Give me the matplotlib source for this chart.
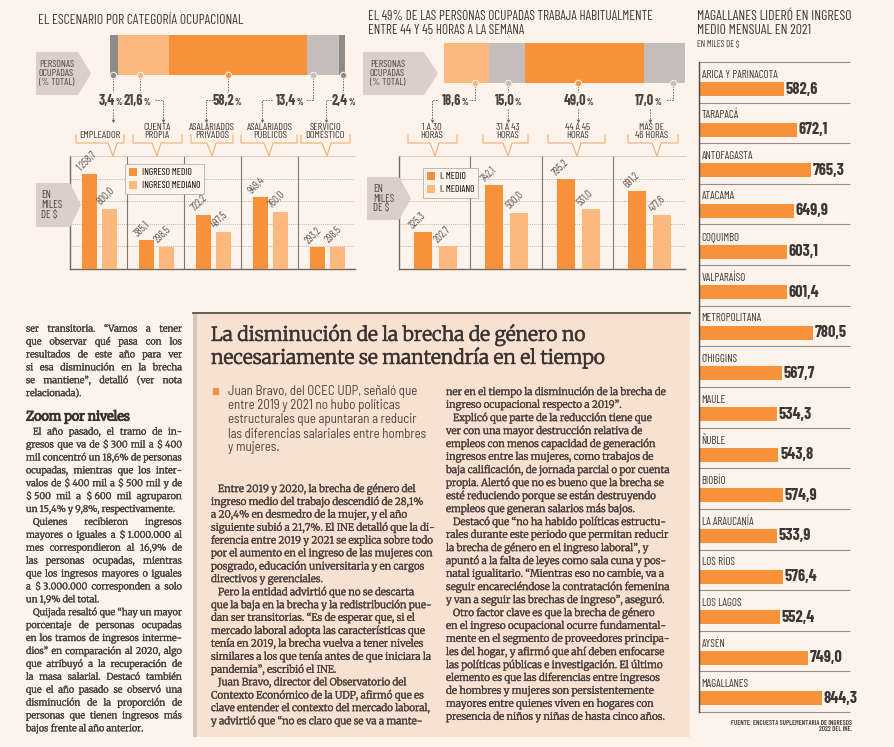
import numpy as np
import matplotlib
matplotlib.use("Agg")
import matplotlib.pyplot as plt
import matplotlib.patheffects as pe
from matplotlib.patches import Polygon, Rectangle

W, H = 895, 747

# --- datos ---------------------------------------------------------------
cat_labels = ["EMPLEADOR", "CUENTA\nPROPIA", "ASALARIADOS\nPRIVADOS",
              "ASALARIADOS\nPÚBLICOS", "SERVICIO\nDOMÉSTICO"]
cat_share = [3.4, 21.6, 58.2, 13.4, 2.4]
cat_medio = [1258.7, 385.1, 722.2, 949.4, 293.2]
cat_mediano = [800.0, 298.5, 497.5, 760.0, 298.5]

hrs_labels = ["1 A 30\nHORAS", "31 A 43\nHORAS", "44 A 45\nHORAS", "MÁS DE\n46 HORAS"]
hrs_share = [18.6, 15.0, 49.0, 17.0]
hrs_medio = [325.3, 742.1, 795.2, 691.2]
hrs_mediano = [202.7, 500.0, 531.0, 477.6]

regiones = ["ARICA Y PARINACOTA", "TARAPACÁ", "ANTOFAGASTA", "ATACAMA", "COQUIMBO",
            "VALPARAÍSO", "METROPOLITANA", "O'HIGGINS", "MAULE", "ÑUBLE", "BIOBÍO",
            "LA ARAUCANÍA", "LOS RÍOS", "LOS LAGOS", "AYSÉN", "MAGALLANES"]
reg_medio = [582.6, 672.1, 765.3, 649.9, 603.1, 601.4, 780.5, 567.7, 534.3, 543.8,
             574.9, 533.9, 576.4, 552.4, 749.0, 844.3]

titulo1 = "EL ESCENARIO POR CATEGORÍA OCUPACIONAL"
titulo2 = ["EL 49% DE LAS PERSONAS OCUPADAS TRABAJA HABITUALMENTE",
           "ENTRE 44 Y 45 HORAS A LA SEMANA"]
titulo3 = ["MAGALLANES LIDERÓ EN INGRESO", "MEDIO MENSUAL EN 2021"]

titular = ["La disminución de la brecha de género no",
           "necesariamente se mantendría en el tiempo"]
bajada = ["Juan Bravo, del OCEC UDP, señaló que",
          "entre 2019 y 2021 no hubo políticas",
          "estructurales que apuntaran a reducir",
          "las diferencias salariales entre hombres",
          "y mujeres."]

col_izq_a = [["ser transitoria. “Vamos a tener",
              "que observar qué pasa con los",
              "resultados de este año para ver",
              "si esa disminución en la brecha",
              "se mantiene”, detalló (ver nota",
              "relacionada)."]]
col_izq_b = [["El año pasado, el tramo de in-",
              "gresos que va de $ 300 mil a $ 400",
              "mil concentró un 18,6% de personas",
              "ocupadas, mientras que los inter-",
              "valos de $ 400 mil a $ 500 mil y de",
              "$ 500 mil a $ 600 mil agruparon",
              "un 15,4% y 9,8%, respectivamente."],
             ["Quienes recibieron ingresos",
              "mayores o iguales a $ 1.000.000 al",
              "mes correspondieron al 16,9% de",
              "las personas ocupadas, mientras",
              "que los ingresos mayores o iguales",
              "a $ 3.000.000 corresponden a solo",
              "un 1,9% del total."],
             ["Quijada resaltó que “hay un mayor",
              "porcentaje de personas ocupadas",
              "en los tramos de ingresos interme-",
              "dios” en comparación al 2020, algo",
              "que atribuyó a la recuperación de",
              "la masa salarial. Destacó también",
              "que el año pasado se observó una",
              "disminución de la proporción de",
              "personas que tienen ingresos más",
              "bajos frente al año anterior."]]

col_mid = [["Entre 2019 y 2020, la brecha de género del",
            "ingreso medio del trabajo descendió de 28,1%",
            "a 20,4% en desmedro de la mujer, y el año",
            "siguiente subió a 21,7%. El INE detalló que la di-",
            "ferencia entre 2019 y 2021 se explica sobre todo",
            "por el aumento en el ingreso de las mujeres con",
            "posgrado, educación universitaria y en cargos",
            "directivos y gerenciales."],
           ["Pero la entidad advirtió que no se descarta",
            "que la baja en la brecha y la redistribución pue-",
            "dan ser transitorias. “Es de esperar que, si el",
            "mercado laboral adopta las características que",
            "tenía en 2019, la brecha vuelva a tener niveles",
            "similares a los que tenía antes de que iniciara la",
            "pandemia”, escribió el INE."],
           ["Juan Bravo, director del Observatorio del",
            "Contexto Económico de la UDP, afirmó que es",
            "clave entender el contexto del mercado laboral,",
            "y advirtió que “no es claro que se va a mante-"]]

col_der = [["ner en el tiempo la disminución de la brecha de",
            "ingreso ocupacional respecto a 2019”."],
           ["Explicó que parte de la reducción tiene que",
            "ver con una mayor destrucción relativa de",
            "empleos con menos capacidad de generación",
            "ingresos entre las mujeres, como trabajos de",
            "baja calificación, de jornada parcial o por cuenta",
            "propia. Alertó que no es bueno que la brecha se",
            "esté reduciendo porque se están destruyendo",
            "empleos que generan salarios más bajos."],
           ["Destacó que “no ha habido políticas estructu-",
            "rales durante este periodo que permitan reducir",
            "la brecha de género en el ingreso laboral”, y",
            "apuntó a la falta de leyes como sala cuna y pos-",
            "natal igualitario. “Mientras eso no cambie, va a",
            "seguir encareciéndose la contratación femenina",
            "y van a seguir las brechas de ingreso”, aseguró."],
           ["Otro factor clave es que la brecha de género",
            "en el ingreso ocupacional ocurre fundamental-",
            "mente en el segmento de proveedores principa-",
            "les del hogar, y afirmó que ahí deben enfocarse",
            "las políticas públicas e investigación. El último",
            "elemento es que las diferencias entre ingresos",
            "de hombres y mujeres son persistentemente",
            "mayores entre quienes viven en hogares con",
            "presencia de niños y niñas de hasta cinco años."]]

# --- estilo --------------------------------------------------------------
BG = "#FDF3EA"
PINK = "#F8E1D1"
OR = "#F7923A"
LOR = "#FBB97D"
DGREY = "#8E8A87"
LGREY = "#C3BEBB"
BOXC = "#DCCFC7"
TXT = "#3E3936"
BODY = "#463E3A"
HEAD = "#3A3331"
BRK = "#F2AE72"
DASH = "#6E6763"

COND = ["Barlow Condensed", "DejaVu Sans"]
SEMI = ["Barlow Semi Condensed", "Barlow Condensed", "DejaVu Sans"]
SERIF = ["Merriweather", "DejaVu Serif"]

body_fx = [pe.withStroke(linewidth=0.25, foreground=BODY)]
head_fx = [pe.withStroke(linewidth=0.45, foreground=HEAD)]
sub_fx = [pe.withStroke(linewidth=0.8, foreground=HEAD)]

fig = plt.figure(figsize=(W / 100, H / 100), dpi=100, facecolor=BG)


def full_axes(z):
    a = fig.add_axes([0, 0, 1, 1], zorder=z)
    a.set_xlim(0, W)
    a.set_ylim(H, 0)
    a.axis("off")
    return a


bg = full_axes(0)
ov = full_axes(10)
renderer = fig.canvas.get_renderer()


def px_rect(x0, y0, x1, y1):
    return [x0 / W, 1 - y1 / H, (x1 - x0) / W, (y1 - y0) / H]


_cache = {}


def tw(s, size, family, weight="normal"):
    key = (s, size, tuple(family), weight)
    if key not in _cache:
        t = ov.text(0, 0, s, fontsize=size, family=family, weight=weight, parse_math=False)
        _cache[key] = t.get_window_extent(renderer).width
        t.remove()
    return _cache[key]


def fit(lines, target, family, weight="normal", base=10.0):
    widest = max(tw(l, base, family, weight) for l in lines)
    return base * target / widest


def fmt(v):
    return f"{v:,.1f}".replace(",", "X").replace(".", ",").replace("X", ".")


# --- fondo del recuadro --------------------------------------------------
bg.add_patch(Rectangle((193, 313), 497, 424, facecolor=PINK, edgecolor="none"))
bg.add_patch(Rectangle((193, 313), 4, 424, facecolor="#D3C6BE", edgecolor="none"))
bg.plot([193, 690], [313, 313], color="#4A4440", lw=1.2)

# --- titulos de graficos -------------------------------------------------
s = fit([titulo1], 205, COND)
ov.text(38, 20, titulo1, fontsize=s, family=COND, color=TXT, va="center")
s = fit(titulo2, 285, COND)
for i, t in enumerate(titulo2):
    ov.text(368, 17 + 13 * i, t, fontsize=s, family=COND, color=TXT, va="center")
s = fit(titulo3, 155, COND)
for i, t in enumerate(titulo3):
    ov.text(697, 17 + 13 * i, t, fontsize=s, family=COND, color=TXT, va="center")
ov.text(697, 44, "EN MILES DE $", fontsize=6.4, family=COND, color=TXT, va="center",
        parse_math=False)


def arrow_box(x0, y0, x1, tip, y1, text, size, tx):
    ym = (y0 + y1) / 2
    ov.add_patch(Polygon([(x0, y0), (x1, y0), (tip, ym), (x1, y1), (x0, y1)],
                         closed=True, facecolor=BOXC, edgecolor="none", zorder=3))
    ov.text(tx, ym, text, fontsize=size, family=COND, color="#4B4542", va="center",
            ha="left", linespacing=1.0, zorder=4, parse_math=False)


arrow_box(36, 52, 78, 91, 95, "PERSONAS\nOCUPADAS\n(% TOTAL)", 7.2, 39)
arrow_box(36, 183, 70, 81, 227, "EN\nMILES\nDE $", 7.8, 41)
arrow_box(363, 52, 424, 438, 95, "PERSONAS\nOCUPADAS\n(% TOTAL)", 7.2, 370)
arrow_box(367, 177, 399, 411, 220, "EN\nMILES\nDE $", 7.8, 373)


# --- barras apiladas de participacion ------------------------------------
def stacked(rect, shares, colors):
    ax = fig.add_axes(px_rect(*rect), zorder=2)
    left = np.concatenate([[0], np.cumsum(shares)[:-1]])
    ax.barh(0, shares, left=left, height=1, color=colors, edgecolor="none")
    ax.set_xlim(0, sum(shares))
    ax.set_ylim(-0.5, 0.5)
    ax.axis("off")
    return ax


stacked((110, 35, 345, 75), cat_share, [DGREY, LOR, OR, LGREY, DGREY])
stacked((444, 43, 685, 83), hrs_share, [LOR, LGREY, OR, LGREY])


def pct_label(cx, base_y, val):
    num = f"{val:.1f}".replace(".", ",")
    wn = tw(num, 10.2, COND, "bold")
    wp = tw("%", 6.2, COND, "bold")
    x0 = cx - (wn + wp) / 2
    ov.text(x0, base_y, num, fontsize=10.2, family=COND, weight="bold", color="#4A4542",
            va="baseline", ha="left")
    ov.text(x0 + wn + 0.4, base_y, "%", fontsize=6.2, family=COND, weight="bold",
            color="#4A4542", va="baseline", ha="left")


def dashed(pts):
    xs, ys = zip(*pts)
    ov.plot(xs, ys, color=DASH, lw=0.7, linestyle=(0, (1.6, 1.2)))


def arrow_down(x, y):
    ov.plot([x], [y], marker="v", ms=2.6, color=DASH, mec="none")


def bracket(x1, x2, tip):
    xs = [x1, x1, tip - 5, tip, tip + 4, x2, x2]
    ys = [135, 143, 143, 156, 143, 143, 135]
    ov.plot(xs, ys, color=BRK, lw=0.8, solid_joinstyle="miter")


# panel 1: leaders
circ1 = [113, 140, 228, 313, 343]
circ1_col = [DGREY, LOR, OR, LGREY, DGREY]
pct1_x = [110, 137, 227, 289, 343]
lab1_x = [100, 157, 212, 270, 325]
lead1 = [([(113, 78), (113, 92)], [(113, 109), (113, 120)], 113),
         ([(140, 78), (140, 92)], [(155, 100), (163, 100), (163, 120)], 163),
         ([(228, 78), (228, 92)], [(213, 100), (206, 100), (206, 120)], 206),
         ([(313, 78), (313, 100), (305, 100)], [(272, 100), (262, 100), (262, 120)], 262),
         ([(343, 78), (343, 92)], [(331, 100), (326, 100), (326, 120)], 326)]
brk1 = [(76, 124, 113), (133, 182, 157), (191, 233, 212), (241, 297, 269), (301, 350, 327)]

for i in range(len(cat_share)):
    a, b, ax_ = lead1[i]
    dashed(a)
    dashed(b)
    arrow_down(ax_, 121)
    ov.plot([circ1[i]], [75], "o", ms=4.6, mfc=circ1_col[i], mec="#EDE6E1", mew=0.9)
    pct_label(pct1_x[i], 105, cat_share[i])
    ov.text(lab1_x[i], 140, cat_labels[i], fontsize=7.4, family=COND, color=TXT,
            ha="center", va="bottom", linespacing=0.92)
    bracket(*brk1[i])

# panel 2: leaders
circ2 = [475, 508, 578, 673]
circ2_col = [LOR, LGREY, OR, LGREY]
pct2_x = [455, 508, 578, 648]
lab2_x = [432, 508, 578, 652]
lead2 = [([(475, 86), (475, 100), (469, 100)], [(437, 100), (432, 100), (432, 120)], 432),
         ([(508, 86), (508, 92)], [(508, 109), (508, 120)], 508),
         ([(578, 86), (578, 92)], [(578, 109), (578, 120)], 578),
         ([(673, 86), (673, 100), (666, 100)], [(650, 109), (650, 120)], 650)]
brk2 = [(408, 457, 435), (483, 528, 508), (548, 605, 577), (628, 678, 657)]

for i in range(len(hrs_share)):
    a, b, ax_ = lead2[i]
    dashed(a)
    dashed(b)
    arrow_down(ax_, 121)
    ov.plot([circ2[i]], [83], "o", ms=4.6, mfc=circ2_col[i], mec="#EDE6E1", mew=0.9)
    pct_label(pct2_x[i], 105, hrs_share[i])
    ov.text(lab2_x[i], 140, hrs_labels[i], fontsize=7.4, family=COND, color=TXT,
            ha="center", va="bottom", linespacing=0.92)
    bracket(*brk2[i])


# --- graficos de barras de ingreso ---------------------------------------
def income_panel(rect, medio, mediano, ymax, step, off, bw, names, leg_xy):
    ax = fig.add_axes(px_rect(*rect), zorder=2)
    ax.set_facecolor("none")
    n = len(medio)
    x = np.arange(n) + 0.5
    b1 = ax.bar(x + off[0], medio, bw, color=OR, zorder=3)
    b2 = ax.bar(x + off[1], mediano, bw, color=LOR, zorder=3)
    ax.set_xlim(0, n)
    ax.set_ylim(0, ymax)
    ax.set_yticks(np.arange(step, ymax, step))
    ax.set_xticks([])
    ax.yaxis.grid(True, linestyle=(0, (1, 1.2)), color="#BDB3AC", lw=0.7)
    ax.tick_params(left=False, labelleft=False)
    for k in range(1, n):
        ax.axvline(k, color="#7F7874", lw=0.8, zorder=2)
    for sp in ["left", "bottom"]:
        ax.spines[sp].set_color("#6F6864")
        ax.spines[sp].set_linewidth(1.0)
    ax.spines["top"].set_color("#D2C9C2")
    ax.spines["top"].set_linewidth(0.6)
    ax.spines["right"].set_visible(False)
    for bars, vals in ((b1, medio), (b2, mediano)):
        for r, v in zip(bars, vals):
            ax.annotate(fmt(v), (r.get_x() + 0.05 * bw, v), xytext=(0, 1.2),
                        textcoords="offset points", rotation=45, rotation_mode="anchor",
                        ha="left", va="bottom", fontsize=7.6, family=COND, color="#5E5753")
    ax.legend([b1, b2], names, loc="upper left",
              bbox_to_anchor=(leg_xy[0] / W, 1 - leg_xy[1] / H),
              bbox_transform=fig.transFigure, borderaxespad=0, frameon=True,
              fancybox=False, facecolor=BG, edgecolor="#B7AEA8", framealpha=1,
              handlelength=0.9, handleheight=0.9, handletextpad=0.45,
              labelspacing=0.4, borderpad=0.4,
              prop=dict(family=COND, size=6.9))
    ax.get_legend().get_frame().set_linewidth(0.6)
    return ax


income_panel((70, 156, 355, 269), cat_medio, cat_mediano, 1500, 300,
             (-0.16, 0.19), 0.27, ["INGRESO MEDIO", "INGRESO MEDIANO"], (125, 164))
income_panel((399, 156, 685, 269), hrs_medio, hrs_mediano, 1000, 200,
             (-0.17, 0.18), 0.25, ["I. MEDIO", "I. MEDIANO"], (423, 168))

# --- ingreso por region --------------------------------------------------
axr = fig.add_axes(px_rect(699, 62, 850, 712), zorder=2)
axr.set_facecolor("none")
n = len(regiones)
rows = np.arange(n)
axr.barh(rows + 0.665, reg_medio, height=0.345, color=OR)
axr.set_xlim(0, 1036)
axr.set_ylim(n, 0)
axr.hlines(np.arange(n + 1), 0, 1036, color="#948E8A", lw=0.8, clip_on=False)
for sp in ["top", "right", "bottom"]:
    axr.spines[sp].set_visible(False)
axr.spines["left"].set_color("#4E4844")
axr.spines["left"].set_linewidth(1.0)
axr.set_xticks([])
axr.set_yticks([])
s_reg = fit(["ARICA Y PARINACOTA"], 76, COND)
for i, (name, v) in enumerate(zip(regiones, reg_medio)):
    axr.text(18, i + 0.31, name, fontsize=s_reg, family=COND, color=TXT, va="center", ha="left")
    axr.text(v + 12, i + 0.665, fmt(v), fontsize=11.8, family=COND, weight="bold",
             color="#3B3735", va="center", ha="left")
ov.text(852, 726, "FUENTE: ENCUESTA SUPLEMENTARIA DE INGRESOS\n2022 DEL INE.", fontsize=5.0,
        family=COND, weight="semibold", color="#4B4542", ha="right", va="center",
        multialignment="right", linespacing=1.1)

# --- texto de la nota ----------------------------------------------------
s = fit(titular[1:], 394, SERIF)
for i, t in enumerate(titular):
    ov.text(211, 335 + 23 * i, t, fontsize=s, family=SERIF, color=HEAD, va="center",
            path_effects=head_fx)

s = fit(bajada, 200, SEMI)
ov.add_patch(Rectangle((213, 388), 6.5, 6.5, facecolor=OR, edgecolor="none"))
for i, t in enumerate(bajada):
    ov.text(228, 392 + 14 * i, t, fontsize=s, family=SEMI, color="#4A4440", va="center")


def ragged(x0, y0, lh, paras, size, indent=7, first_indent=True):
    y = y0
    for p, lines in enumerate(paras):
        for k, line in enumerate(lines):
            dx = indent if (k == 0 and (p > 0 or first_indent)) else 0
            ov.text(x0 + dx, y, line, fontsize=size, family=SERIF, color=BODY,
                    va="center", ha="left", parse_math=False, path_effects=body_fx)
            y += lh
    return y


def split_words(line):
    return line.replace("$ ", "$\u00a0").split(" ")


def justified(x0, x1, y0, lh, paras, size, indent=7, first_indent=True):
    sp = tw("a a", size, SERIF) - tw("aa", size, SERIF)
    y = y0
    for p, lines in enumerate(paras):
        for k, line in enumerate(lines):
            dx = indent if (k == 0 and (p > 0 or first_indent)) else 0
            words = split_words(line)
            ws = [tw(w, size, SERIF) for w in words]
            last = k == len(lines) - 1
            if last or len(words) == 1:
                gap = sp
            else:
                gap = (x1 - x0 - dx - sum(ws)) / (len(words) - 1)
            x = x0 + dx
            for w, wd in zip(words, ws):
                ov.text(x, y, w, fontsize=size, family=SERIF, color=BODY,
                        va="center", ha="left", parse_math=False, path_effects=body_fx)
                x += wd + gap
            y += lh
    return y


s_mid = fit([l for p in col_mid for l in p], 224, SERIF)
s_der = fit([l for p in col_der for l in p], 236, SERIF)
s_body = min(s_mid, s_der)

# tamaño de la columna izquierda: que quepa con espacios algo comprimidos
sp_b = tw("a a", s_body, SERIF) - tw("aa", s_body, SERIF)
need = 0
for p in col_izq_a + col_izq_b:
    for l in p:
        ws = [tw(w, s_body, SERIF) for w in split_words(l)]
        need = max(need, (sum(ws) + 0.55 * sp_b * (len(ws) - 1)) / 150)
s_left = s_body / max(need, 1.0)

justified(26, 182, 329, 12.9, col_izq_a, s_left, first_indent=False)
ov.text(26, 417, "Zoom por niveles", fontsize=s_left * 1.4, family=SERIF, color=HEAD,
        va="center", path_effects=sub_fx)
justified(26, 182, 432, 12.9, col_izq_b, s_left)

ragged(211, 489, 12.9, col_mid, s_body)
ragged(446, 392, 13.0, col_der, s_body, first_indent=False)

fig.savefig("out.png", dpi=100, facecolor=BG)
